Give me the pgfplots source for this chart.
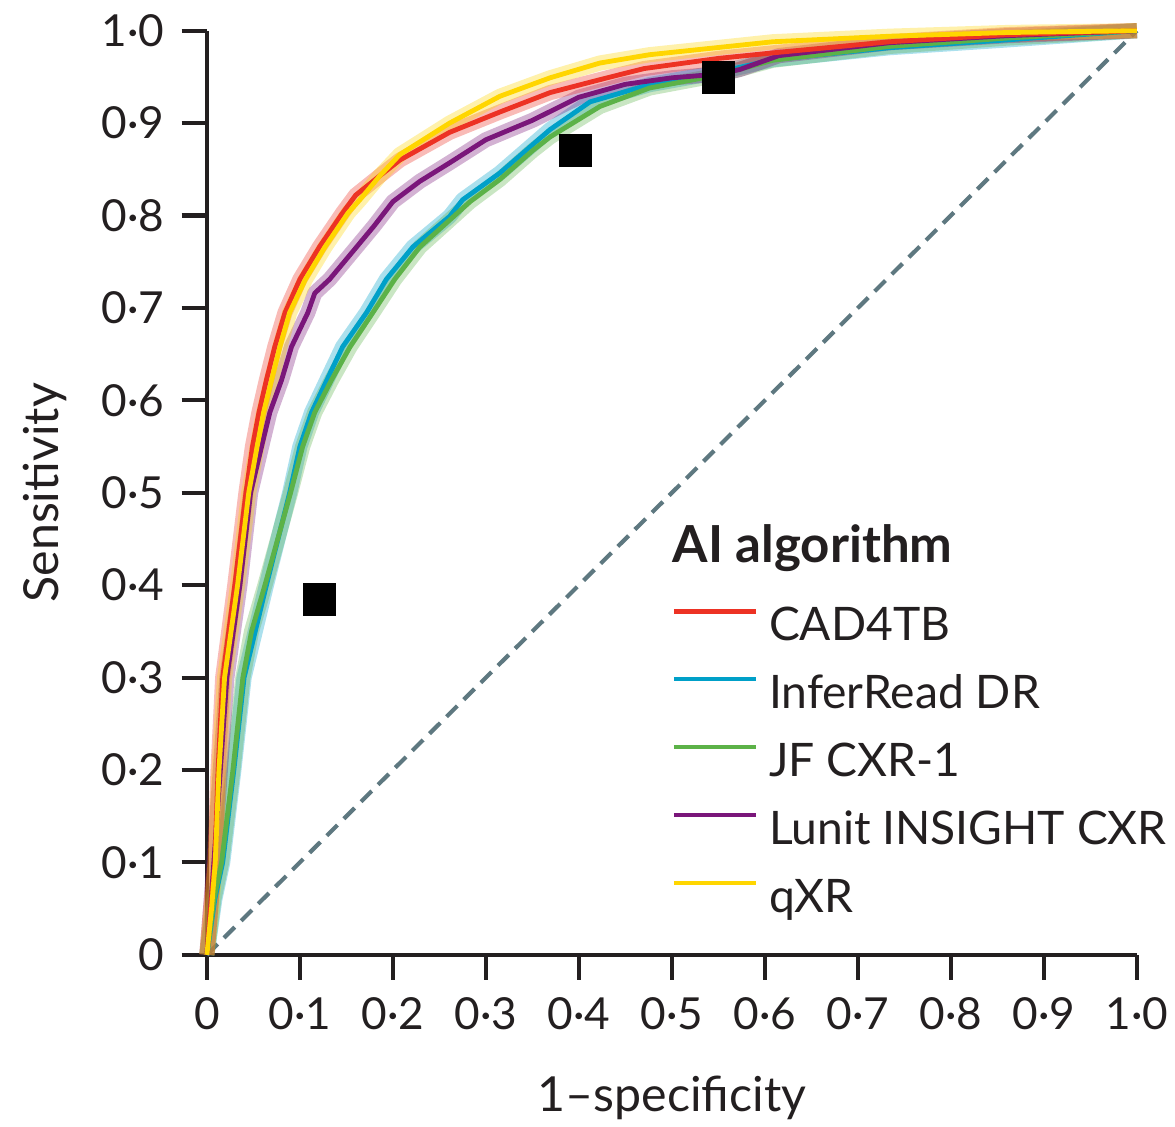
\documentclass[border=0pt]{standalone}
\usepackage{fontspec}
\setmainfont{Lato}
\usepackage{pgfplots}
\usepackage{pgfplotstable}
\pgfplotsset{compat=1.18}
\definecolor{cadred}{RGB}{237,50,36}
\definecolor{infcyan}{RGB}{0,160,200}
\definecolor{jfgreen}{RGB}{92,178,72}
\definecolor{lunitpurple}{RGB}{122,22,122}
\definecolor{qxryellow}{RGB}{255,214,0}
\definecolor{diagc}{RGB}{94,120,128}
\definecolor{axisc}{RGB}{35,31,32}

\pgfplotstableread{
x y
0 0
0.004 0.05
0.0086 0.10
0.012 0.20
0.017 0.30
0.030 0.40
0.042 0.50
0.049 0.55
0.056 0.587
0.064 0.622
0.073 0.658
0.084 0.695
0.100 0.731
0.121 0.766
0.146 0.803
0.160 0.822
0.186 0.843
0.2075 0.860
0.261 0.890
0.315 0.912
0.369 0.933
0.4226 0.947
0.47 0.959
0.55 0.970
0.6086 0.976
0.734 0.988
0.860 0.9957
0.968 0.999
1 1
}\cadtb

\pgfplotstableread{
x y
0 0
0.0085 0.06
0.017 0.10
0.029 0.20
0.040 0.30
0.064 0.40
0.089 0.50
0.100 0.55
0.1126 0.587
0.129 0.622
0.146 0.658
0.1717 0.695
0.193 0.731
0.2215 0.766
0.261 0.799
0.275 0.817
0.315 0.846
0.369 0.893
0.412 0.923
0.476 0.9416
0.55 0.955
0.6086 0.9686
0.734 0.9816
0.860 0.990
1 1
}\infer

\pgfplotstableread{
x y
0 0
0.0075 0.06
0.0158 0.10
0.028 0.20
0.0387 0.30
0.048 0.350
0.0624 0.40
0.090 0.50
0.103 0.55
0.116 0.587
0.134 0.622
0.154 0.658
0.1785 0.695
0.202 0.731
0.229 0.766
0.261 0.795
0.283 0.815
0.315 0.839
0.35 0.870
0.369 0.885
0.4226 0.918
0.476 0.938
0.55 0.952
0.6086 0.968
0.734 0.983
0.860 0.992
1 1
}\jfcxr

\pgfplotstableread{
x y
0 0
0.004 0.05
0.0075 0.10
0.0147 0.2035
0.0215 0.30
0.0355 0.40
0.047 0.50
0.0588 0.55
0.0677 0.587
0.0803 0.622
0.091 0.658
0.1086 0.695
0.116 0.716
0.132 0.731
0.161 0.766
0.18 0.789
0.2 0.815
0.229 0.837
0.261 0.857
0.3 0.882
0.35 0.903
0.4 0.928
0.45 0.942
0.5 0.949
0.55 0.953
0.573 0.958
0.615 0.973
0.734 0.987
0.860 0.9946
1 1
}\lunit

\pgfplotstableread{
x y
0 0
0.005 0.05
0.009 0.10
0.013 0.20
0.019 0.30
0.033 0.40
0.045 0.50
0.054 0.55
0.061 0.587
0.0696 0.622
0.0785 0.658
0.089 0.695
0.106 0.731
0.127 0.766
0.152 0.803
0.1645 0.817
0.186 0.843
0.2075 0.866
0.261 0.900
0.315 0.929
0.369 0.949
0.4226 0.965
0.476 0.974
0.6086 0.988
0.734 0.994
0.860 0.998
1 1
}\qxr

\pgfplotstableread{
x y
0.1215 0.385
0.396 0.870
0.5505 0.949
}\squares

\begin{document}
\begin{tikzpicture}
\begin{axis}[
  name=ax,
  scale only axis,
  width=269.7pt, height=268pt,
  xmin=0, xmax=1, ymin=0, ymax=1,
  axis lines=left,
  axis line style={-, line width=1.2pt, color=axisc},
  every tick/.style={line width=1.2pt, color=axisc},
  tick align=outside,
  major tick length=7.3pt,
  xtick={0,0.1,0.2,0.3,0.4,0.5,0.6,0.7,0.8,0.9,1},
  ytick={0,0.1,0.2,0.3,0.4,0.5,0.6,0.7,0.8,0.9,1},
  xticklabels={0,0·1,0·2,0·3,0·4,0·5,0·6,0·7,0·8,0·9,1·0},
  yticklabels={0,0·1,0·2,0·3,0·4,0·5,0·6,0·7,0·8,0·9,1·0},
  tick label style={font=\fontsize{12.8}{15}\selectfont, color=axisc},
  yticklabel style={inner sep=0pt, xshift=-4.9pt},
  xticklabel style={inner sep=0pt, yshift=-4.9pt},
  xlabel={1–specificity},
  ylabel={Sensitivity},
  label style={font=\fontsize{14}{17}\selectfont, color=axisc},
  xlabel style={at={(axis description cs:0.5,-0.1299)}, anchor=north, inner sep=0pt},
  ylabel style={at={(axis description cs:-0.1494,0.5)}, anchor=south, inner sep=0pt},
  clip=false,
  legend style={at={(axis cs:0.5,0.379)}, anchor=north west, draw=none, fill=none,
    inner sep=0pt, outer sep=0pt, row sep=5.7pt, column sep=3.2pt,
    font=\fontsize{13.4}{16}\selectfont, text=axisc,
    nodes={inner sep=0pt, outer sep=0pt, text height=10.5pt, text depth=3.5pt}},
  legend cell align=left,
  legend image code/.code={\draw[#1] (0pt,5pt) -- (23.8pt,5pt);},
  band/.style={line width=4.4pt, opacity=0.33, line join=round, forget plot},
  curve/.style={line width=1.4pt, line join=round, forget plot},
]
\addplot[diagc, line width=1.2pt, dash pattern=on 4.4pt off 2.6pt, forget plot] coordinates {(0,0) (1,1)};

\addplot[band, infcyan] table[x=x,y=y] {\infer};
\addplot[band, jfgreen] table[x=x,y=y] {\jfcxr};
\addplot[band, lunitpurple] table[x=x,y=y] {\lunit};
\addplot[band, cadred] table[x=x,y=y] {\cadtb};
\addplot[band, qxryellow] table[x=x,y=y] {\qxr};

\addplot[curve, infcyan] table[x=x,y=y] {\infer};
\addplot[curve, jfgreen] table[x=x,y=y] {\jfcxr};
\addplot[curve, lunitpurple] table[x=x,y=y] {\lunit};
\addplot[curve, cadred] table[x=x,y=y] {\cadtb};
\addplot[curve, qxryellow] table[x=x,y=y] {\qxr};

\addplot[only marks, mark=square*, mark size=4.64pt, mark options={fill=black, draw=black, line width=0pt}, forget plot] table[x=x,y=y] {\squares};

\addlegendimage{cadred, line width=1.2pt}
\addlegendentry{CAD4TB}
\addlegendimage{infcyan, line width=1.2pt}
\addlegendentry{InferRead DR}
\addlegendimage{jfgreen, line width=1.2pt}
\addlegendentry{JF CXR-1}
\addlegendimage{lunitpurple, line width=1.2pt}
\addlegendentry{Lunit INSIGHT CXR}
\addlegendimage{qxryellow, line width=1.2pt}
\addlegendentry{qXR}

\node[anchor=base west, inner sep=0pt, font=\fontsize{14.8}{17}\selectfont\bfseries, text=axisc] at (axis cs:0.5,0.424) {AI algorithm};
\end{axis}
\path (ax.south west) ++(-60pt,-49.9pt) rectangle ++(340.75pt,326.8pt);
\end{tikzpicture}
\end{document}
